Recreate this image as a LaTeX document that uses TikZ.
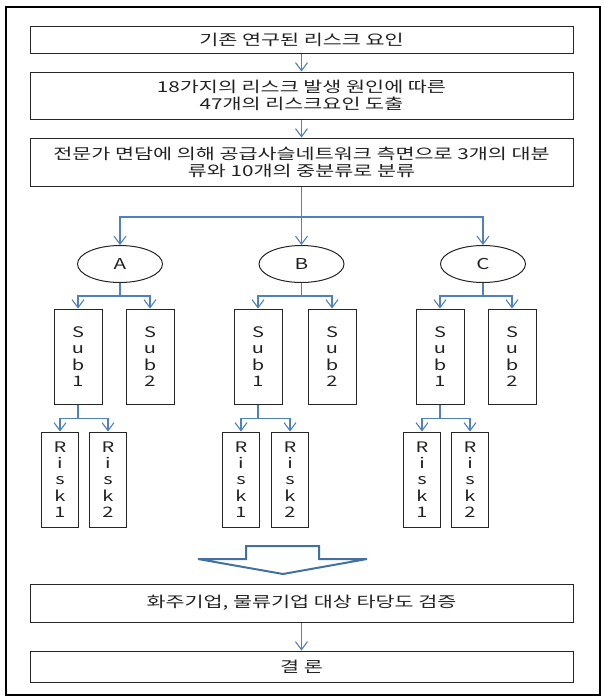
\documentclass[tikz,border=0pt]{standalone}
\usepackage{fontspec}
\setmainfont{Noto Sans CJK KR}[FakeStretch=1.38]
\usetikzlibrary{arrows.meta,shapes.geometric}
\definecolor{lineblue}{HTML}{4F81BD}
\definecolor{hollowblue}{HTML}{41719C}
\definecolor{txtgray}{HTML}{222222}
\newcommand{\txtfont}{\fontsize{15}{17}\selectfont}
\newcommand{\vfont}{\fontsize{14.5}{16.3}\selectfont}
\begin{document}
\begin{tikzpicture}[x=1pt,y=-1pt,
  every node/.style={text=txtgray},
  wide/.style={draw=black!85, line width=1pt, minimum width=543pt, inner sep=0pt, align=center, font=\txtfont},
  subbox/.style={draw=black!85, line width=1pt, minimum width=48pt, minimum height=95pt, inner sep=0pt, align=center, font=\vfont},
  riskbox/.style={draw=black!85, line width=1pt, minimum width=37pt, minimum height=95pt, inner sep=0pt, align=center, font=\vfont},
  oval/.style={ellipse, draw=black!85, line width=1pt, minimum width=85pt, minimum height=37pt, inner sep=0pt, font=\txtfont},
  conn/.style={draw=lineblue, line width=1.1pt},
  arr/.style={conn, -{Straight Barb[length=8pt,width=12pt,line width=1.1pt]}},
  hollow/.style={draw=hollowblue, line width=2pt, fill=white, line join=miter}
]
\useasboundingbox (0,0) rectangle (604,697);
\draw[line width=2pt, black] (5.5,6.5) rectangle (599.5,694.5);

% main boxes
\node[wide, minimum height=27pt] (b1) at (301.5,39.5) {기존 연구된 리스크 요인};
\node[wide, minimum height=47pt] (b2) at (301.5,95.5) {18가지의 리스크 발생 원인에 따른\\47개의 리스크요인 도출};
\node[wide, minimum height=48pt] (b3) at (301.5,162) {전문가 면담에 의해 공급사슬네트워크 측면으로 3개의 대분\\류와 10개의 중분류로 분류};
\node[wide, minimum height=38pt] (b4) at (301.5,603) {화주기업, 물류기업 대상 타당도 검증};
\node[wide, minimum height=31pt] (b5) at (301.5,666.5) {결 론};

\draw[arr] (b1) -- (b2);
\draw[arr] (b2) -- (b3);
\draw[arr] (b4) -- (b5);

% ellipses
\node[oval] (A) at (120,264) {A};
\node[oval] (B) at (301.5,264) {B};
\node[oval] (C) at (483,264) {C};

\coordinate (t0) at (301.5,217);
\draw[arr] (b3.south) -- (B.north);
\draw[arr] (t0) -| (A.north);
\draw[arr] (t0) -| (C.north);

% sub boxes
\node[subbox] (A1) at (78,356.5) {S\\u\\b\\1};
\node[subbox] (A2) at (150,356.5) {S\\u\\b\\2};
\node[subbox] (B1) at (258,356.5) {S\\u\\b\\1};
\node[subbox] (B2) at (332,356.5) {S\\u\\b\\2};
\node[subbox] (C1) at (440,356.5) {S\\u\\b\\1};
\node[subbox] (C2) at (512,356.5) {S\\u\\b\\2};

\foreach \p in {A,B,C}{
  \draw[conn] (\p.south) -- ++(0,13) coordinate (\p0);
  \draw[arr] (\p0) -| (\p1.north);
  \draw[arr] (\p0) -| (\p2.north);
}

% risk boxes
\node[riskbox] (Ar1) at (60,479.5) {R\\i\\s\\k\\1};
\node[riskbox] (Ar2) at (108,479.5) {R\\i\\s\\k\\2};
\node[riskbox] (Br1) at (241,479.5) {R\\i\\s\\k\\1};
\node[riskbox] (Br2) at (290,479.5) {R\\i\\s\\k\\2};
\node[riskbox] (Cr1) at (422,479.5) {R\\i\\s\\k\\1};
\node[riskbox] (Cr2) at (470,479.5) {R\\i\\s\\k\\2};

\foreach \p in {A,B,C}{
  \draw[conn] (\p1.south) -- ++(0,14) coordinate (\p s);
  \draw[arr] (\p s) -| (\p r1.north);
  \draw[arr] (\p s) -| (\p r2.north);
}

% big hollow arrow
\draw[hollow] (246,546) -- (319,546) -- (319,559) -- (367,559) -- (283,574) -- (198,559) -- (246,559) -- cycle;
\end{tikzpicture}
\end{document}
